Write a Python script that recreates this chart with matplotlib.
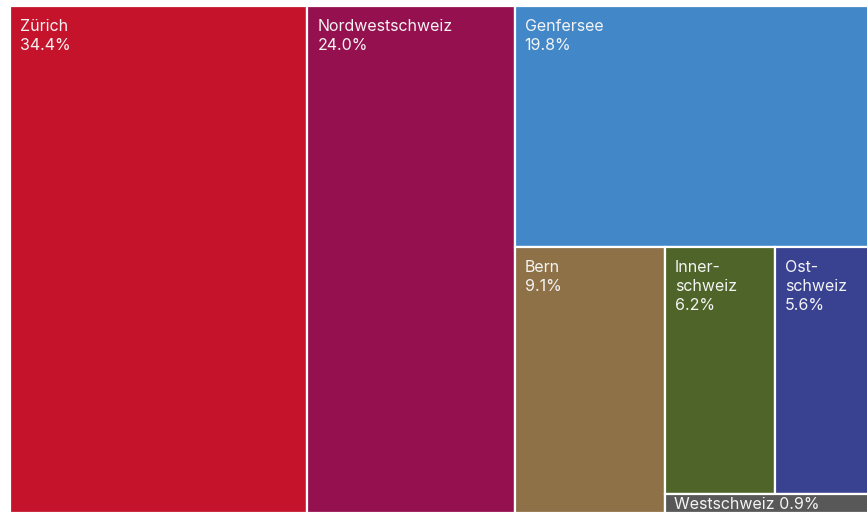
import matplotlib
matplotlib.use("Agg")
import matplotlib.pyplot as plt
from matplotlib.patches import Rectangle

# Share of each region, in percent
regions = ["Zürich", "Nordwestschweiz", "Genfersee", "Bern", "Innerschweiz", "Ostschweiz", "Westschweiz"]
shares = [34.4, 24.0, 19.8, 9.1, 6.2, 5.6, 0.9]
labels = ["Zürich", "Nordwestschweiz", "Genfersee", "Bern", "Inner-\nschweiz", "Ost-\nschweiz", "Westschweiz"]
colors = ["#C4132B", "#95104E", "#4287C8", "#8F7147", "#4E6428", "#394191", "#585858"]

val = dict(zip(regions, shares))

def split(rect, weights, across):
    """Cut rect (x, y, w, h) into pieces proportional to weights.
    across=True cuts along x (columns), otherwise along y (rows)."""
    x, y, w, h = rect
    tot = sum(weights)
    out, pos = [], 0.0
    for wt in weights:
        f = wt / tot
        if across:
            out.append((x + pos * w, y, f * w, h))
        else:
            out.append((x, y + pos * h, w, f * h))
        pos += f
    return out

rest = val["Genfersee"] + val["Bern"] + val["Innerschweiz"] + val["Ostschweiz"] + val["Westschweiz"]
r_zh, r_nw, r_rest = split((0, 0, 1, 1), [val["Zürich"], val["Nordwestschweiz"], rest], True)
bottom = val["Bern"] + val["Innerschweiz"] + val["Ostschweiz"] + val["Westschweiz"]
r_ge, r_bottom = split(r_rest, [val["Genfersee"], bottom], False)
small = val["Innerschweiz"] + val["Ostschweiz"] + val["Westschweiz"]
r_be, r_small = split(r_bottom, [val["Bern"], small], True)
r_top, r_ws = split(r_small, [val["Innerschweiz"] + val["Ostschweiz"], val["Westschweiz"]], False)
r_in, r_os = split(r_top, [val["Innerschweiz"], val["Ostschweiz"]], True)
rects = dict(zip(regions, [r_zh, r_nw, r_ge, r_be, r_in, r_os, r_ws]))

fig = plt.figure(figsize=(8.67, 5.12), dpi=100)
W, H = 867, 512
# plot area in pixels: the treemap runs a little past the right and bottom edges
x0, x1 = 10.3, 874.0
y_top, y_bot = 6.4, 512.8
ax = fig.add_axes([x0 / W, (H - y_bot) / H, (x1 - x0) / W, (y_bot - y_top) / H])
ax.set_xlim(0, 1)
ax.set_ylim(1, 0)
ax.axis("off")

font = ["Inter", "DejaVu Sans"]
for name, lab, sh, col in zip(regions, labels, shares, colors):
    x, y, w, h = rects[name]
    ax.add_patch(Rectangle((x, y), w, h, facecolor=col, edgecolor="white",
                           linewidth=1.6, clip_on=False))
    if name == "Westschweiz":
        ax.annotate(f"{lab} {sh:.1f}%", (x, y + h / 2), xytext=(9, -1),
                    textcoords="offset pixels", ha="left", va="center",
                    color="#f4f4f4", fontsize=11.5, family=font)
    else:
        ax.annotate(f"{lab}\n{sh:.1f}%", (x, y), xytext=(10, -13),
                    textcoords="offset pixels", ha="left", va="top",
                    color="#f4f4f4", fontsize=11.5, family=font, linespacing=1.33)

fig.savefig("out.png", dpi=100)
